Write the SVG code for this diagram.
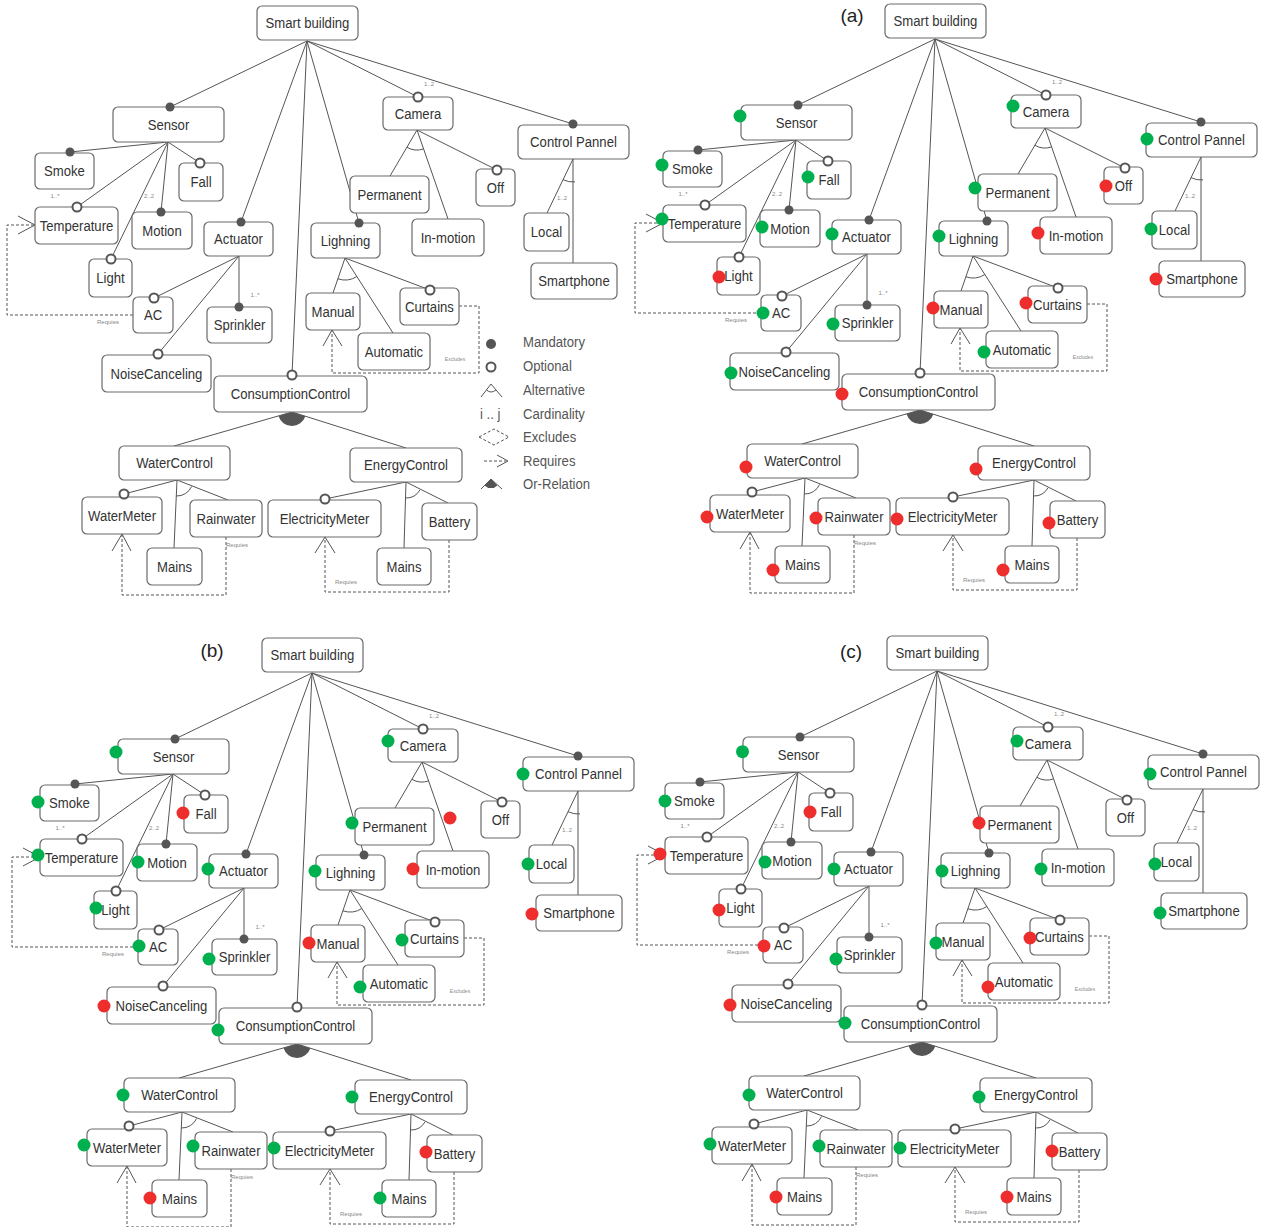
<svg xmlns="http://www.w3.org/2000/svg" width="1263" height="1227" viewBox="0 0 1263 1227">
<style>
.b{fill:#fff;stroke:#6a6a6a;stroke-width:1.2;rx:5px}
.t{font-family:"Liberation Sans",Arial,sans-serif;font-size:15px;fill:#333;text-anchor:middle;transform-box:fill-box;transform-origin:center;transform:scaleX(0.875)}
.ln{stroke:#555;stroke-width:1;fill:none}
.dash{stroke:#555;stroke-width:1;fill:none;stroke-dasharray:3 2}
.or{fill:#555}
.mk{fill:#555}
.op{fill:#fff;stroke:#555;stroke-width:2}
.sg{fill:#00b04f}
.sr{fill:#ee2d2d}
.sm{font-family:"Liberation Sans",Arial,sans-serif;font-size:6px;fill:#888;text-anchor:middle}
.lg{font-family:"Liberation Sans",Arial,sans-serif;font-size:15px;fill:#555;transform-box:fill-box;transform-origin:left center;transform:scaleX(0.875)}
.pl{font-family:"Liberation Sans",Arial,sans-serif;font-size:19px;fill:#222;text-anchor:middle}
</style>

<!-- ===== Panel: base model ===== -->
<g id="panel-model">
<g id="m-connectors">
<path class="ln" d="M307,41L170,107M307,41L241,222M307,41L292,375M307,41L359,223M307,41L418,97M307,41L573,124"/>
<path class="ln" d="M168,142L70,152M168,142L77,207M168,142L111,259M168,142L161,212M168,142L200,163"/>
<path class="ln" d="M239,256L154,298M239,256L158,354M239,256L239,307"/>
<path class="ln" d="M345,258L333,293M345,258L393,333M345,258L430,290"/>
<path class="ln" d="M337.9,278.8A22,22 0 0 0 356.9,276.5"/>
<path class="ln" d="M417,130L390,176M417,130L448,219M417,130L497,170"/>
<path class="ln" d="M406.9,147.3A20,20 0 0 0 423.6,148.9"/>
<path class="ln" d="M573,159L547,213M573,159L573,263"/>
<path class="ln" d="M563,179.7A23,23 0 0 0 575,181.9"/>
<path class="ln" d="M292,412L174,446M292,412L406,448"/>
<path class="or" d="M292,412L305.35,416.21A14,14 0 0 1 278.55,415.88Z"/>
<path class="ln" d="M177,480L124,494M177,480L174,548M177,480L228,500"/>
<path class="ln" d="M176.3,496A16,16 0 0 0 191.6,486.5"/>
<path class="ln" d="M406,482L325,499M406,482L404,548M406,482L448,503"/>
<path class="ln" d="M405.5,498A16,16 0 0 0 419.9,490"/>
<path class="dash" d="M133,315H7V225H35"/>
<path class="ln" d="M18,216L35,225L18,234"/>
<path class="dash" d="M459,306H479V373H332V330"/>
<path class="ln" d="M323,346L332,330L342,346"/>
<path class="dash" d="M226,537V595H122V534"/>
<path class="ln" d="M112,551L122,534L131,551"/>
<path class="dash" d="M449,540V592H325V537"/>
<path class="ln" d="M315,553L325,537L335,553"/>
<text class="sm" x="55" y="198">1..*</text>
<text class="sm" x="149" y="198">2..2</text>
<text class="sm" x="429" y="86">1..2</text>
<text class="sm" x="562" y="200">1..2</text>
<text class="sm" x="255" y="297">1..*</text>
<text class="sm" x="108" y="324">Requies</text>
<text class="sm" x="237" y="547">Requies</text>
<text class="sm" x="346" y="584">Requies</text>
<text class="sm" x="455" y="361" style="font-size:5px">Excludes</text>
</g>
<g id="m-root"><rect class="b" x="257" y="6" width="101" height="34"/><text class="t" x="307.5" y="28.3">Smart building</text></g>
<g id="m-sensor"><rect class="b" x="113" y="107" width="111" height="35"/><text class="t" x="168.5" y="129.8">Sensor</text><circle class="mk" cx="170" cy="107" r="4.5"/></g>
<g id="m-smoke"><rect class="b" x="35" y="153" width="59" height="36"/><text class="t" x="64.5" y="176.3">Smoke</text><circle class="mk" cx="70" cy="152" r="4.5"/></g>
<g id="m-fall"><rect class="b" x="179" y="163" width="44" height="38"/><text class="t" x="201" y="187.3">Fall</text><circle class="op" cx="200" cy="163" r="4.5"/></g>
<g id="m-temperature"><rect class="b" x="35" y="207" width="83" height="37"/><text class="t" x="76.5" y="230.8">Temperature</text><circle class="op" cx="77" cy="207" r="4.5"/></g>
<g id="m-motion"><rect class="b" x="132" y="212" width="60" height="37"/><text class="t" x="162" y="235.8">Motion</text><circle class="mk" cx="161" cy="212" r="4.5"/></g>
<g id="m-light"><rect class="b" x="89" y="259" width="43" height="38"/><text class="t" x="110.5" y="283.3">Light</text><circle class="op" cx="111" cy="259" r="4.5"/></g>
<g id="m-actuator"><rect class="b" x="204" y="222" width="69" height="34"/><text class="t" x="238.5" y="244.3">Actuator</text><circle class="mk" cx="241" cy="222" r="4.5"/></g>
<g id="m-ac"><rect class="b" x="133" y="297" width="40" height="36"/><text class="t" x="153" y="320.3">AC</text><circle class="op" cx="154" cy="298" r="4.5"/></g>
<g id="m-sprinkler"><rect class="b" x="207" y="307" width="65" height="36"/><text class="t" x="239.5" y="330.3">Sprinkler</text><circle class="mk" cx="239" cy="307" r="4.5"/></g>
<g id="m-noisecanceling"><rect class="b" x="102" y="355" width="109" height="37"/><text class="t" x="156.5" y="378.8">NoiseCanceling</text><circle class="op" cx="158" cy="354" r="4.5"/></g>
<g id="m-consumptioncontrol"><rect class="b" x="214" y="376" width="153" height="36"/><text class="t" x="290.5" y="399.3">ConsumptionControl</text><circle class="op" cx="292" cy="375" r="4.5"/></g>
<g id="m-lighning"><rect class="b" x="311" y="223" width="69" height="35"/><text class="t" x="345.5" y="245.8">Lighning</text><circle class="mk" cx="359" cy="223" r="4.5"/></g>
<g id="m-manual"><rect class="b" x="306" y="293" width="54" height="37"/><text class="t" x="333" y="316.8">Manual</text></g>
<g id="m-curtains"><rect class="b" x="400" y="288" width="59" height="37"/><text class="t" x="429.5" y="311.8">Curtains</text><circle class="op" cx="430" cy="290" r="4.5"/></g>
<g id="m-automatic"><rect class="b" x="358" y="333" width="72" height="37"/><text class="t" x="394" y="356.8">Automatic</text></g>
<g id="m-camera"><rect class="b" x="383" y="97" width="70" height="33"/><text class="t" x="418" y="118.8">Camera</text><circle class="op" cx="418" cy="97" r="4.5"/></g>
<g id="m-permanent"><rect class="b" x="350" y="176" width="79" height="37"/><text class="t" x="389.5" y="199.8">Permanent</text></g>
<g id="m-inmotion"><rect class="b" x="412" y="219" width="72" height="37"/><text class="t" x="448" y="242.8">In-motion</text></g>
<g id="m-off"><rect class="b" x="476" y="169" width="39" height="37"/><text class="t" x="495.5" y="192.8">Off</text><circle class="op" cx="497" cy="170" r="4.5"/></g>
<g id="m-controlpannel"><rect class="b" x="518" y="125" width="111" height="34"/><text class="t" x="573.5" y="147.3">Control Pannel</text><circle class="mk" cx="573" cy="124" r="4.5"/></g>
<g id="m-local"><rect class="b" x="524" y="213" width="45" height="38"/><text class="t" x="546.5" y="237.3">Local</text></g>
<g id="m-smartphone"><rect class="b" x="531" y="263" width="86" height="36"/><text class="t" x="574" y="286.3">Smartphone</text></g>
<g id="m-watercontrol"><rect class="b" x="119" y="446" width="111" height="34"/><text class="t" x="174.5" y="468.3">WaterControl</text></g>
<g id="m-watermeter"><rect class="b" x="82" y="497" width="80" height="37"/><text class="t" x="122" y="520.8">WaterMeter</text><circle class="op" cx="124" cy="494" r="4.5"/></g>
<g id="m-rainwater"><rect class="b" x="190" y="500" width="72" height="37"/><text class="t" x="226" y="523.8">Rainwater</text></g>
<g id="m-mainsw"><rect class="b" x="147" y="548" width="55" height="37"/><text class="t" x="174.5" y="571.8">Mains</text></g>
<g id="m-energycontrol"><rect class="b" x="350" y="448" width="112" height="34"/><text class="t" x="406" y="470.3">EnergyControl</text></g>
<g id="m-electricitymeter"><rect class="b" x="268" y="500" width="113" height="37"/><text class="t" x="324.5" y="523.8">ElectricityMeter</text><circle class="op" cx="325" cy="499" r="4.5"/></g>
<g id="m-battery"><rect class="b" x="422" y="503" width="55" height="37"/><text class="t" x="449.5" y="526.8">Battery</text></g>
<g id="m-mainse"><rect class="b" x="377" y="548" width="54" height="37"/><text class="t" x="404" y="571.8">Mains</text></g>
<g id="legend">
<circle class="mk" cx="491" cy="344" r="5"/><text class="lg" x="523" y="347">Mandatory</text>
<circle class="op" cx="491" cy="367" r="4.5"/><text class="lg" x="523" y="371">Optional</text>
<path class="ln" d="M481,397L491,384L502,397M486.5,390Q491,394 496,390"/><text class="lg" x="523" y="395">Alternative</text>
<text class="lg" x="480" y="419">i .. j</text><text class="lg" x="523" y="419">Cardinality</text>
<path class="dash" d="M479,437L494,429L509,437L494,445Z"/><text class="lg" x="523" y="442">Excludes</text>
<path class="dash" d="M484,461H506"/><path class="ln" d="M497,455L508,461L497,467"/><text class="lg" x="523" y="466">Requires</text>
<path class="ln" d="M481,489L491,479L502,489"/><path class="or" d="M491,479L484.6,485.4A9,9 0 0 0 497.4,485.4Z"/><text class="lg" x="523" y="489">Or-Relation</text>
</g>
</g>

<!-- ===== Panel (a) ===== -->
<text class="pl" x="852" y="22">(a)</text>
<g id="panel-a" transform="translate(628,-2)">
<g id="a-connectors">
<path class="ln" d="M307,41L170,107M307,41L241,222M307,41L292,375M307,41L359,223M307,41L418,97M307,41L573,124"/>
<path class="ln" d="M168,142L70,152M168,142L77,207M168,142L111,259M168,142L161,212M168,142L200,163"/>
<path class="ln" d="M239,256L154,298M239,256L158,354M239,256L239,307"/>
<path class="ln" d="M345,258L333,293M345,258L393,333M345,258L430,290"/>
<path class="ln" d="M337.9,278.8A22,22 0 0 0 356.9,276.5"/>
<path class="ln" d="M417,130L390,176M417,130L448,219M417,130L497,170"/>
<path class="ln" d="M406.9,147.3A20,20 0 0 0 423.6,148.9"/>
<path class="ln" d="M573,159L547,213M573,159L573,263"/>
<path class="ln" d="M563,179.7A23,23 0 0 0 575,181.9"/>
<path class="ln" d="M292,412L174,446M292,412L406,448"/>
<path class="or" d="M292,412L305.35,416.21A14,14 0 0 1 278.55,415.88Z"/>
<path class="ln" d="M177,480L124,494M177,480L174,548M177,480L228,500"/>
<path class="ln" d="M176.3,496A16,16 0 0 0 191.6,486.5"/>
<path class="ln" d="M406,482L325,499M406,482L404,548M406,482L448,503"/>
<path class="ln" d="M405.5,498A16,16 0 0 0 419.9,490"/>
<path class="dash" d="M133,315H7V225H35"/>
<path class="ln" d="M18,216L35,225L18,234"/>
<path class="dash" d="M459,306H479V373H332V330"/>
<path class="ln" d="M323,346L332,330L342,346"/>
<path class="dash" d="M226,537V595H122V534"/>
<path class="ln" d="M112,551L122,534L131,551"/>
<path class="dash" d="M449,540V592H325V537"/>
<path class="ln" d="M315,553L325,537L335,553"/>
<text class="sm" x="55" y="198">1..*</text>
<text class="sm" x="149" y="198">2..2</text>
<text class="sm" x="429" y="86">1..2</text>
<text class="sm" x="562" y="200">1..2</text>
<text class="sm" x="255" y="297">1..*</text>
<text class="sm" x="108" y="324">Requies</text>
<text class="sm" x="237" y="547">Requies</text>
<text class="sm" x="346" y="584">Requies</text>
<text class="sm" x="455" y="361" style="font-size:5px">Excludes</text>
</g>
<g id="a-root"><rect class="b" x="257" y="6" width="101" height="34"/><text class="t" x="307.5" y="28.3">Smart building</text></g>
<g id="a-sensor"><rect class="b" x="113" y="107" width="111" height="35"/><text class="t" x="168.5" y="129.8">Sensor</text><circle class="mk" cx="170" cy="107" r="4.5"/><circle class="sg" cx="112" cy="118" r="6.5"/></g>
<g id="a-smoke"><rect class="b" x="35" y="153" width="59" height="36"/><text class="t" x="64.5" y="176.3">Smoke</text><circle class="mk" cx="70" cy="152" r="4.5"/><circle class="sg" cx="34" cy="167" r="6.5"/></g>
<g id="a-fall"><rect class="b" x="179" y="163" width="44" height="38"/><text class="t" x="201" y="187.3">Fall</text><circle class="op" cx="200" cy="163" r="4.5"/><circle class="sg" cx="180" cy="179" r="6.5"/></g>
<g id="a-temperature"><rect class="b" x="35" y="207" width="83" height="37"/><text class="t" x="76.5" y="230.8">Temperature</text><circle class="op" cx="77" cy="207" r="4.5"/><circle class="sg" cx="34" cy="221" r="6.5"/></g>
<g id="a-motion"><rect class="b" x="132" y="212" width="60" height="37"/><text class="t" x="162" y="235.8">Motion</text><circle class="mk" cx="161" cy="212" r="4.5"/><circle class="sg" cx="134" cy="229" r="6.5"/></g>
<g id="a-light"><rect class="b" x="89" y="259" width="43" height="38"/><text class="t" x="110.5" y="283.3">Light</text><circle class="op" cx="111" cy="259" r="4.5"/><circle class="sr" cx="91" cy="279" r="6.5"/></g>
<g id="a-actuator"><rect class="b" x="204" y="222" width="69" height="34"/><text class="t" x="238.5" y="244.3">Actuator</text><circle class="mk" cx="241" cy="222" r="4.5"/><circle class="sg" cx="204" cy="236" r="6.5"/></g>
<g id="a-ac"><rect class="b" x="133" y="297" width="40" height="36"/><text class="t" x="153" y="320.3">AC</text><circle class="op" cx="154" cy="298" r="4.5"/><circle class="sg" cx="135" cy="315" r="6.5"/></g>
<g id="a-sprinkler"><rect class="b" x="207" y="307" width="65" height="36"/><text class="t" x="239.5" y="330.3">Sprinkler</text><circle class="mk" cx="239" cy="307" r="4.5"/><circle class="sg" cx="205" cy="326" r="6.5"/></g>
<g id="a-noisecanceling"><rect class="b" x="102" y="355" width="109" height="37"/><text class="t" x="156.5" y="378.8">NoiseCanceling</text><circle class="op" cx="158" cy="354" r="4.5"/><circle class="sg" cx="103" cy="375" r="6.5"/></g>
<g id="a-consumptioncontrol"><rect class="b" x="214" y="376" width="153" height="36"/><text class="t" x="290.5" y="399.3">ConsumptionControl</text><circle class="op" cx="292" cy="375" r="4.5"/><circle class="sr" cx="214" cy="396" r="6.5"/></g>
<g id="a-lighning"><rect class="b" x="311" y="223" width="69" height="35"/><text class="t" x="345.5" y="245.8">Lighning</text><circle class="mk" cx="359" cy="223" r="4.5"/><circle class="sg" cx="311" cy="238" r="6.5"/></g>
<g id="a-manual"><rect class="b" x="306" y="293" width="54" height="37"/><text class="t" x="333" y="316.8">Manual</text><circle class="sr" cx="305" cy="310" r="6.5"/></g>
<g id="a-curtains"><rect class="b" x="400" y="288" width="59" height="37"/><text class="t" x="429.5" y="311.8">Curtains</text><circle class="op" cx="430" cy="290" r="4.5"/><circle class="sr" cx="398" cy="305" r="6.5"/></g>
<g id="a-automatic"><rect class="b" x="358" y="333" width="72" height="37"/><text class="t" x="394" y="356.8">Automatic</text><circle class="sg" cx="356" cy="354" r="6.5"/></g>
<g id="a-camera"><rect class="b" x="383" y="97" width="70" height="33"/><text class="t" x="418" y="118.8">Camera</text><circle class="op" cx="418" cy="97" r="4.5"/><circle class="sg" cx="385" cy="108" r="6.5"/></g>
<g id="a-permanent"><rect class="b" x="350" y="176" width="79" height="37"/><text class="t" x="389.5" y="199.8">Permanent</text><circle class="sg" cx="347" cy="190" r="6.5"/></g>
<g id="a-inmotion"><rect class="b" x="412" y="219" width="72" height="37"/><text class="t" x="448" y="242.8">In-motion</text><circle class="sr" cx="410" cy="235" r="6.5"/></g>
<g id="a-off"><rect class="b" x="476" y="169" width="39" height="37"/><text class="t" x="495.5" y="192.8">Off</text><circle class="op" cx="497" cy="170" r="4.5"/><circle class="sr" cx="478" cy="188" r="6.5"/></g>
<g id="a-controlpannel"><rect class="b" x="518" y="125" width="111" height="34"/><text class="t" x="573.5" y="147.3">Control Pannel</text><circle class="mk" cx="573" cy="124" r="4.5"/><circle class="sg" cx="519" cy="141" r="6.5"/></g>
<g id="a-local"><rect class="b" x="524" y="213" width="45" height="38"/><text class="t" x="546.5" y="237.3">Local</text><circle class="sg" cx="523" cy="231" r="6.5"/></g>
<g id="a-smartphone"><rect class="b" x="531" y="263" width="86" height="36"/><text class="t" x="574" y="286.3">Smartphone</text><circle class="sr" cx="528" cy="281" r="6.5"/></g>
<g id="a-watercontrol"><rect class="b" x="119" y="446" width="111" height="34"/><text class="t" x="174.5" y="468.3">WaterControl</text><circle class="sr" cx="118" cy="469" r="6.5"/></g>
<g id="a-watermeter"><rect class="b" x="82" y="497" width="80" height="37"/><text class="t" x="122" y="520.8">WaterMeter</text><circle class="op" cx="124" cy="494" r="4.5"/><circle class="sr" cx="79" cy="519" r="6.5"/></g>
<g id="a-rainwater"><rect class="b" x="190" y="500" width="72" height="37"/><text class="t" x="226" y="523.8">Rainwater</text><circle class="sr" cx="188" cy="520" r="6.5"/></g>
<g id="a-mainsw"><rect class="b" x="147" y="548" width="55" height="37"/><text class="t" x="174.5" y="571.8">Mains</text><circle class="sr" cx="145" cy="572" r="6.5"/></g>
<g id="a-energycontrol"><rect class="b" x="350" y="448" width="112" height="34"/><text class="t" x="406" y="470.3">EnergyControl</text><circle class="sr" cx="348" cy="471" r="6.5"/></g>
<g id="a-electricitymeter"><rect class="b" x="268" y="500" width="113" height="37"/><text class="t" x="324.5" y="523.8">ElectricityMeter</text><circle class="op" cx="325" cy="499" r="4.5"/><circle class="sr" cx="269" cy="521" r="6.5"/></g>
<g id="a-battery"><rect class="b" x="422" y="503" width="55" height="37"/><text class="t" x="449.5" y="526.8">Battery</text><circle class="sr" cx="421" cy="525" r="6.5"/></g>
<g id="a-mainse"><rect class="b" x="377" y="548" width="54" height="37"/><text class="t" x="404" y="571.8">Mains</text><circle class="sr" cx="375" cy="572" r="6.5"/></g>
</g>

<!-- ===== Panel (b) ===== -->
<text class="pl" x="212" y="657">(b)</text>
<g id="panel-b" transform="translate(5,632)">
<g id="b-connectors">
<path class="ln" d="M307,41L170,107M307,41L241,222M307,41L292,375M307,41L359,223M307,41L418,97M307,41L573,124"/>
<path class="ln" d="M168,142L70,152M168,142L77,207M168,142L111,259M168,142L161,212M168,142L200,163"/>
<path class="ln" d="M239,256L154,298M239,256L158,354M239,256L239,307"/>
<path class="ln" d="M345,258L333,293M345,258L393,333M345,258L430,290"/>
<path class="ln" d="M337.9,278.8A22,22 0 0 0 356.9,276.5"/>
<path class="ln" d="M417,130L390,176M417,130L448,219M417,130L497,170"/>
<path class="ln" d="M406.9,147.3A20,20 0 0 0 423.6,148.9"/>
<path class="ln" d="M573,159L547,213M573,159L573,263"/>
<path class="ln" d="M563,179.7A23,23 0 0 0 575,181.9"/>
<path class="ln" d="M292,412L174,446M292,412L406,448"/>
<path class="or" d="M292,412L305.35,416.21A14,14 0 0 1 278.55,415.88Z"/>
<path class="ln" d="M177,480L124,494M177,480L174,548M177,480L228,500"/>
<path class="ln" d="M176.3,496A16,16 0 0 0 191.6,486.5"/>
<path class="ln" d="M406,482L325,499M406,482L404,548M406,482L448,503"/>
<path class="ln" d="M405.5,498A16,16 0 0 0 419.9,490"/>
<path class="dash" d="M133,315H7V225H35"/>
<path class="ln" d="M18,216L35,225L18,234"/>
<path class="dash" d="M459,306H479V373H332V330"/>
<path class="ln" d="M323,346L332,330L342,346"/>
<path class="dash" d="M226,537V595H122V534"/>
<path class="ln" d="M112,551L122,534L131,551"/>
<path class="dash" d="M449,540V592H325V537"/>
<path class="ln" d="M315,553L325,537L335,553"/>
<text class="sm" x="55" y="198">1..*</text>
<text class="sm" x="149" y="198">2..2</text>
<text class="sm" x="429" y="86">1..2</text>
<text class="sm" x="562" y="200">1..2</text>
<text class="sm" x="255" y="297">1..*</text>
<text class="sm" x="108" y="324">Requies</text>
<text class="sm" x="237" y="547">Requies</text>
<text class="sm" x="346" y="584">Requies</text>
<text class="sm" x="455" y="361" style="font-size:5px">Excludes</text>
</g>
<g id="b-root"><rect class="b" x="257" y="6" width="101" height="34"/><text class="t" x="307.5" y="28.3">Smart building</text></g>
<g id="b-sensor"><rect class="b" x="113" y="107" width="111" height="35"/><text class="t" x="168.5" y="129.8">Sensor</text><circle class="mk" cx="170" cy="107" r="4.5"/><circle class="sg" cx="111" cy="120" r="6.5"/></g>
<g id="b-smoke"><rect class="b" x="35" y="153" width="59" height="36"/><text class="t" x="64.5" y="176.3">Smoke</text><circle class="mk" cx="70" cy="152" r="4.5"/><circle class="sg" cx="33" cy="170" r="6.5"/></g>
<g id="b-fall"><rect class="b" x="179" y="163" width="44" height="38"/><text class="t" x="201" y="187.3">Fall</text><circle class="op" cx="200" cy="163" r="4.5"/><circle class="sr" cx="178" cy="181" r="6.5"/></g>
<g id="b-temperature"><rect class="b" x="35" y="207" width="83" height="37"/><text class="t" x="76.5" y="230.8">Temperature</text><circle class="op" cx="77" cy="207" r="4.5"/><circle class="sg" cx="33" cy="223" r="6.5"/></g>
<g id="b-motion"><rect class="b" x="132" y="212" width="60" height="37"/><text class="t" x="162" y="235.8">Motion</text><circle class="mk" cx="161" cy="212" r="4.5"/><circle class="sg" cx="133" cy="230" r="6.5"/></g>
<g id="b-light"><rect class="b" x="89" y="259" width="43" height="38"/><text class="t" x="110.5" y="283.3">Light</text><circle class="op" cx="111" cy="259" r="4.5"/><circle class="sg" cx="91" cy="276" r="6.5"/></g>
<g id="b-actuator"><rect class="b" x="204" y="222" width="69" height="34"/><text class="t" x="238.5" y="244.3">Actuator</text><circle class="mk" cx="241" cy="222" r="4.5"/><circle class="sg" cx="203" cy="237" r="6.5"/></g>
<g id="b-ac"><rect class="b" x="133" y="297" width="40" height="36"/><text class="t" x="153" y="320.3">AC</text><circle class="op" cx="154" cy="298" r="4.5"/><circle class="sg" cx="134" cy="314" r="6.5"/></g>
<g id="b-sprinkler"><rect class="b" x="207" y="307" width="65" height="36"/><text class="t" x="239.5" y="330.3">Sprinkler</text><circle class="mk" cx="239" cy="307" r="4.5"/><circle class="sg" cx="204" cy="327" r="6.5"/></g>
<g id="b-noisecanceling"><rect class="b" x="102" y="355" width="109" height="37"/><text class="t" x="156.5" y="378.8">NoiseCanceling</text><circle class="op" cx="158" cy="354" r="4.5"/><circle class="sr" cx="99" cy="374" r="6.5"/></g>
<g id="b-consumptioncontrol"><rect class="b" x="214" y="376" width="153" height="36"/><text class="t" x="290.5" y="399.3">ConsumptionControl</text><circle class="op" cx="292" cy="375" r="4.5"/><circle class="sg" cx="213" cy="398" r="6.5"/></g>
<g id="b-lighning"><rect class="b" x="311" y="223" width="69" height="35"/><text class="t" x="345.5" y="245.8">Lighning</text><circle class="mk" cx="359" cy="223" r="4.5"/><circle class="sg" cx="310" cy="239" r="6.5"/></g>
<g id="b-manual"><rect class="b" x="306" y="293" width="54" height="37"/><text class="t" x="333" y="316.8">Manual</text><circle class="sr" cx="304" cy="311" r="6.5"/></g>
<g id="b-curtains"><rect class="b" x="400" y="288" width="59" height="37"/><text class="t" x="429.5" y="311.8">Curtains</text><circle class="op" cx="430" cy="290" r="4.5"/><circle class="sg" cx="397" cy="308" r="6.5"/></g>
<g id="b-automatic"><rect class="b" x="358" y="333" width="72" height="37"/><text class="t" x="394" y="356.8">Automatic</text><circle class="sg" cx="355" cy="355" r="6.5"/></g>
<g id="b-camera"><rect class="b" x="383" y="97" width="70" height="33"/><text class="t" x="418" y="118.8">Camera</text><circle class="op" cx="418" cy="97" r="4.5"/><circle class="sg" cx="383" cy="109" r="6.5"/></g>
<g id="b-permanent"><rect class="b" x="350" y="176" width="79" height="37"/><text class="t" x="389.5" y="199.8">Permanent</text><circle class="sg" cx="347" cy="191" r="6.5"/></g>
<g id="b-inmotion"><rect class="b" x="412" y="219" width="72" height="37"/><text class="t" x="448" y="242.8">In-motion</text><circle class="sr" cx="408" cy="237" r="6.5"/></g>
<circle id="b-loose-dot" class="sr" cx="445" cy="186" r="6.5"/>
<g id="b-off"><rect class="b" x="476" y="169" width="39" height="37"/><text class="t" x="495.5" y="192.8">Off</text><circle class="op" cx="497" cy="170" r="4.5"/></g>
<g id="b-controlpannel"><rect class="b" x="518" y="125" width="111" height="34"/><text class="t" x="573.5" y="147.3">Control Pannel</text><circle class="mk" cx="573" cy="124" r="4.5"/><circle class="sg" cx="518" cy="142" r="6.5"/></g>
<g id="b-local"><rect class="b" x="524" y="213" width="45" height="38"/><text class="t" x="546.5" y="237.3">Local</text><circle class="sg" cx="523" cy="232" r="6.5"/></g>
<g id="b-smartphone"><rect class="b" x="531" y="263" width="86" height="36"/><text class="t" x="574" y="286.3">Smartphone</text><circle class="sr" cx="527" cy="282" r="6.5"/></g>
<g id="b-watercontrol"><rect class="b" x="119" y="446" width="111" height="34"/><text class="t" x="174.5" y="468.3">WaterControl</text><circle class="sg" cx="118" cy="463" r="6.5"/></g>
<g id="b-watermeter"><rect class="b" x="82" y="497" width="80" height="37"/><text class="t" x="122" y="520.8">WaterMeter</text><circle class="op" cx="124" cy="494" r="4.5"/><circle class="sg" cx="79" cy="513" r="6.5"/></g>
<g id="b-rainwater"><rect class="b" x="190" y="500" width="72" height="37"/><text class="t" x="226" y="523.8">Rainwater</text><circle class="sg" cx="188" cy="514" r="6.5"/></g>
<g id="b-mainsw"><rect class="b" x="147" y="548" width="55" height="37"/><text class="t" x="174.5" y="571.8">Mains</text><circle class="sr" cx="145" cy="566" r="6.5"/></g>
<g id="b-energycontrol"><rect class="b" x="350" y="448" width="112" height="34"/><text class="t" x="406" y="470.3">EnergyControl</text><circle class="sg" cx="347" cy="465" r="6.5"/></g>
<g id="b-electricitymeter"><rect class="b" x="268" y="500" width="113" height="37"/><text class="t" x="324.5" y="523.8">ElectricityMeter</text><circle class="op" cx="325" cy="499" r="4.5"/><circle class="sg" cx="269" cy="516" r="6.5"/></g>
<g id="b-battery"><rect class="b" x="422" y="503" width="55" height="37"/><text class="t" x="449.5" y="526.8">Battery</text><circle class="sr" cx="421" cy="520" r="6.5"/></g>
<g id="b-mainse"><rect class="b" x="377" y="548" width="54" height="37"/><text class="t" x="404" y="571.8">Mains</text><circle class="sg" cx="375" cy="566" r="6.5"/></g>
</g>

<!-- ===== Panel (c) ===== -->
<text class="pl" x="851" y="658">(c)</text>
<g id="panel-c" transform="translate(630,630)">
<g id="c-connectors">
<path class="ln" d="M307,41L170,107M307,41L241,222M307,41L292,375M307,41L359,223M307,41L418,97M307,41L573,124"/>
<path class="ln" d="M168,142L70,152M168,142L77,207M168,142L111,259M168,142L161,212M168,142L200,163"/>
<path class="ln" d="M239,256L154,298M239,256L158,354M239,256L239,307"/>
<path class="ln" d="M345,258L333,293M345,258L393,333M345,258L430,290"/>
<path class="ln" d="M337.9,278.8A22,22 0 0 0 356.9,276.5"/>
<path class="ln" d="M417,130L390,176M417,130L448,219M417,130L497,170"/>
<path class="ln" d="M406.9,147.3A20,20 0 0 0 423.6,148.9"/>
<path class="ln" d="M573,159L547,213M573,159L573,263"/>
<path class="ln" d="M563,179.7A23,23 0 0 0 575,181.9"/>
<path class="ln" d="M292,412L174,446M292,412L406,448"/>
<path class="or" d="M292,412L305.35,416.21A14,14 0 0 1 278.55,415.88Z"/>
<path class="ln" d="M177,480L124,494M177,480L174,548M177,480L228,500"/>
<path class="ln" d="M176.3,496A16,16 0 0 0 191.6,486.5"/>
<path class="ln" d="M406,482L325,499M406,482L404,548M406,482L448,503"/>
<path class="ln" d="M405.5,498A16,16 0 0 0 419.9,490"/>
<path class="dash" d="M133,315H7V225H35"/>
<path class="ln" d="M18,216L35,225L18,234"/>
<path class="dash" d="M459,306H479V373H332V330"/>
<path class="ln" d="M323,346L332,330L342,346"/>
<path class="dash" d="M226,537V595H122V534"/>
<path class="ln" d="M112,551L122,534L131,551"/>
<path class="dash" d="M449,540V592H325V537"/>
<path class="ln" d="M315,553L325,537L335,553"/>
<text class="sm" x="55" y="198">1..*</text>
<text class="sm" x="149" y="198">2..2</text>
<text class="sm" x="429" y="86">1..2</text>
<text class="sm" x="562" y="200">1..2</text>
<text class="sm" x="255" y="297">1..*</text>
<text class="sm" x="108" y="324">Requies</text>
<text class="sm" x="237" y="547">Requies</text>
<text class="sm" x="346" y="584">Requies</text>
<text class="sm" x="455" y="361" style="font-size:5px">Excludes</text>
</g>
<g id="c-root"><rect class="b" x="257" y="6" width="101" height="34"/><text class="t" x="307.5" y="28.3">Smart building</text></g>
<g id="c-sensor"><rect class="b" x="113" y="107" width="111" height="35"/><text class="t" x="168.5" y="129.8">Sensor</text><circle class="mk" cx="170" cy="107" r="4.5"/><circle class="sg" cx="112.5" cy="121.7" r="6.5"/></g>
<g id="c-smoke"><rect class="b" x="35" y="153" width="59" height="36"/><text class="t" x="64.5" y="176.3">Smoke</text><circle class="mk" cx="70" cy="152" r="4.5"/><circle class="sg" cx="35" cy="171" r="6.5"/></g>
<g id="c-fall"><rect class="b" x="179" y="163" width="44" height="38"/><text class="t" x="201" y="187.3">Fall</text><circle class="op" cx="200" cy="163" r="4.5"/><circle class="sr" cx="180" cy="182" r="6.5"/></g>
<g id="c-temperature"><rect class="b" x="35" y="207" width="83" height="37"/><text class="t" x="76.5" y="230.8">Temperature</text><circle class="op" cx="77" cy="207" r="4.5"/><circle class="sr" cx="30" cy="224" r="6.5"/></g>
<g id="c-motion"><rect class="b" x="132" y="212" width="60" height="37"/><text class="t" x="162" y="235.8">Motion</text><circle class="mk" cx="161" cy="212" r="4.5"/><circle class="sg" cx="135" cy="232" r="6.5"/></g>
<g id="c-light"><rect class="b" x="89" y="259" width="43" height="38"/><text class="t" x="110.5" y="283.3">Light</text><circle class="op" cx="111" cy="259" r="4.5"/><circle class="sr" cx="89" cy="280" r="6.5"/></g>
<g id="c-actuator"><rect class="b" x="204" y="222" width="69" height="34"/><text class="t" x="238.5" y="244.3">Actuator</text><circle class="mk" cx="241" cy="222" r="4.5"/><circle class="sg" cx="204" cy="239" r="6.5"/></g>
<g id="c-ac"><rect class="b" x="133" y="297" width="40" height="36"/><text class="t" x="153" y="320.3">AC</text><circle class="op" cx="154" cy="298" r="4.5"/><circle class="sr" cx="134" cy="316" r="6.5"/></g>
<g id="c-sprinkler"><rect class="b" x="207" y="307" width="65" height="36"/><text class="t" x="239.5" y="330.3">Sprinkler</text><circle class="mk" cx="239" cy="307" r="4.5"/><circle class="sg" cx="206" cy="329" r="6.5"/></g>
<g id="c-noisecanceling"><rect class="b" x="102" y="355" width="109" height="37"/><text class="t" x="156.5" y="378.8">NoiseCanceling</text><circle class="op" cx="158" cy="354" r="4.5"/><circle class="sr" cx="100" cy="375" r="6.5"/></g>
<g id="c-consumptioncontrol"><rect class="b" x="214" y="376" width="153" height="36"/><text class="t" x="290.5" y="399.3">ConsumptionControl</text><circle class="op" cx="292" cy="375" r="4.5"/><circle class="sg" cx="215" cy="393" r="6.5"/></g>
<g id="c-lighning"><rect class="b" x="311" y="223" width="69" height="35"/><text class="t" x="345.5" y="245.8">Lighning</text><circle class="mk" cx="359" cy="223" r="4.5"/><circle class="sg" cx="312" cy="241" r="6.5"/></g>
<g id="c-manual"><rect class="b" x="306" y="293" width="54" height="37"/><text class="t" x="333" y="316.8">Manual</text><circle class="sg" cx="306" cy="313" r="6.5"/></g>
<g id="c-curtains"><rect class="b" x="400" y="288" width="59" height="37"/><text class="t" x="429.5" y="311.8">Curtains</text><circle class="op" cx="430" cy="290" r="4.5"/><circle class="sr" cx="400" cy="308" r="6.5"/></g>
<g id="c-automatic"><rect class="b" x="358" y="333" width="72" height="37"/><text class="t" x="394" y="356.8">Automatic</text><circle class="sr" cx="358" cy="357" r="6.5"/></g>
<g id="c-camera"><rect class="b" x="383" y="97" width="70" height="33"/><text class="t" x="418" y="118.8">Camera</text><circle class="op" cx="418" cy="97" r="4.5"/><circle class="sg" cx="387" cy="111" r="6.5"/></g>
<g id="c-permanent"><rect class="b" x="350" y="176" width="79" height="37"/><text class="t" x="389.5" y="199.8">Permanent</text><circle class="sr" cx="349" cy="193" r="6.5"/></g>
<g id="c-inmotion"><rect class="b" x="412" y="219" width="72" height="37"/><text class="t" x="448" y="242.8">In-motion</text><circle class="sg" cx="411" cy="239" r="6.5"/></g>
<g id="c-off"><rect class="b" x="476" y="169" width="39" height="37"/><text class="t" x="495.5" y="192.8">Off</text><circle class="op" cx="497" cy="170" r="4.5"/></g>
<g id="c-controlpannel"><rect class="b" x="518" y="125" width="111" height="34"/><text class="t" x="573.5" y="147.3">Control Pannel</text><circle class="mk" cx="573" cy="124" r="4.5"/><circle class="sg" cx="520" cy="144" r="6.5"/></g>
<g id="c-local"><rect class="b" x="524" y="213" width="45" height="38"/><text class="t" x="546.5" y="237.3">Local</text><circle class="sg" cx="525" cy="234" r="6.5"/></g>
<g id="c-smartphone"><rect class="b" x="531" y="263" width="86" height="36"/><text class="t" x="574" y="286.3">Smartphone</text><circle class="sg" cx="530" cy="283" r="6.5"/></g>
<g id="c-watercontrol"><rect class="b" x="119" y="446" width="111" height="34"/><text class="t" x="174.5" y="468.3">WaterControl</text><circle class="sg" cx="119" cy="465" r="6.5"/></g>
<g id="c-watermeter"><rect class="b" x="82" y="497" width="80" height="37"/><text class="t" x="122" y="520.8">WaterMeter</text><circle class="op" cx="124" cy="494" r="4.5"/><circle class="sg" cx="80" cy="514" r="6.5"/></g>
<g id="c-rainwater"><rect class="b" x="190" y="500" width="72" height="37"/><text class="t" x="226" y="523.8">Rainwater</text><circle class="sg" cx="189" cy="516" r="6.5"/></g>
<g id="c-mainsw"><rect class="b" x="147" y="548" width="55" height="37"/><text class="t" x="174.5" y="571.8">Mains</text><circle class="sr" cx="146" cy="567" r="6.5"/></g>
<g id="c-energycontrol"><rect class="b" x="350" y="448" width="112" height="34"/><text class="t" x="406" y="470.3">EnergyControl</text><circle class="sg" cx="349" cy="467" r="6.5"/></g>
<g id="c-electricitymeter"><rect class="b" x="268" y="500" width="113" height="37"/><text class="t" x="324.5" y="523.8">ElectricityMeter</text><circle class="op" cx="325" cy="499" r="4.5"/><circle class="sg" cx="270" cy="518" r="6.5"/></g>
<g id="c-battery"><rect class="b" x="422" y="503" width="55" height="37"/><text class="t" x="449.5" y="526.8">Battery</text><circle class="sr" cx="422" cy="521" r="6.5"/></g>
<g id="c-mainse"><rect class="b" x="377" y="548" width="54" height="37"/><text class="t" x="404" y="571.8">Mains</text><circle class="sr" cx="377" cy="567" r="6.5"/></g>
</g>
</svg>
